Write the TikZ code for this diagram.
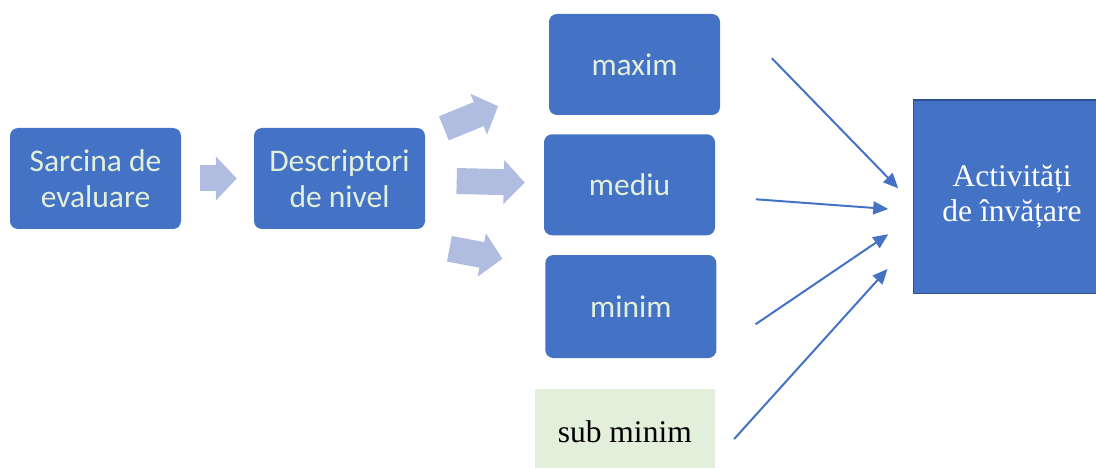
\documentclass[tikz,border=0pt]{standalone}
\usepackage{fontspec}
\setmainfont{Liberation Serif}
\newfontfamily\carlito{Carlito}
\usetikzlibrary{arrows.meta}
\definecolor{boxblue}{HTML}{4472C4}
\definecolor{boxedge}{HTML}{2F528F}
\definecolor{boxtext}{HTML}{E2EFD9}
\definecolor{fatblue}{HTML}{B0BDE0}
\definecolor{subgreen}{HTML}{E2EFDA}
\tikzset{
    levelbox/.style={rounded corners=8pt, fill=boxblue, text=boxtext, inner sep=0pt,
        minimum width=171pt, minimum height=101pt, align=center,
        font=\carlito\fontsize{31.5}{36}\selectfont},
    fatarrow/.style={draw=fatblue, line width=26pt, -{Triangle[length=21pt,width=43pt]}},
    thinarrow/.style={draw=boxblue, line width=2pt, -{Triangle[length=15pt,width=13pt]}}
}
\begin{document}
\begin{tikzpicture}[x=1pt, y=-1pt]
        \clip (0,0) rectangle (1096,468);
        \node[levelbox] (sarcina) at (95.5,178.5) {Sarcina de\\evaluare};
        \node[levelbox] (descriptori) at (339.5,178.5) {Descriptori\\de nivel};
        \node[levelbox] (maxim) at (634.5,64.5) {maxim};
        \node[levelbox] (mediu) at (629.5,184.8) {mediu};
        \node[levelbox, minimum height=103pt] (minim) at (630.8,306.5) {minim};
        \node[fill=subgreen, minimum width=180.3pt, minimum height=85.4pt, inner sep=0pt,
            font=\fontsize{31.5}{36}\selectfont] (subminim) at (624.8,432) {sub minim};
        \node[fill=boxblue, draw=boxedge, line width=1.5pt, text=white, align=center,
            minimum width=197pt, minimum height=193.3pt, inner sep=0pt,
            font=\fontsize{31.5}{35.5}\selectfont] (activitati) at (1012,196.7) {Activități\\de învățare};
        % block arrows
        \draw[fatarrow, shorten <=19pt, shorten >=17pt] (sarcina) -- (descriptori);
        \draw[fatarrow] ([shift={(18.7,-50.2)}]descriptori.east) -- ([shift={(-50.7,-9)}]maxim.south west);
        \draw[fatarrow, shorten <=31.5pt, shorten >=19pt] (descriptori) -- (mediu);
        \draw[fatarrow] ([shift={(24.2,70.3)}]descriptori.east) -- ([shift={(-42.7,4)}]minim.north west);
        % arrows into the activities
        \draw[thinarrow] ([shift={(51.7,-6.2)}]maxim.east) -- ([shift={(-14.5,-8.4)}]activitati.west);
        \draw[thinarrow] ([shift={(40.7,14.5)}]mediu.east) -- ([shift={(-24.5,12.3)}]activitati.west);
        \draw[thinarrow] ([shift={(39,17.8)}]minim.east) -- ([shift={(-24.5,37.6)}]activitati.west);
        \draw[thinarrow] ([shift={(19,7)}]subminim.east) -- ([shift={(-25.2,72.3)}]activitati.west);
    \end{tikzpicture}
\end{document}
